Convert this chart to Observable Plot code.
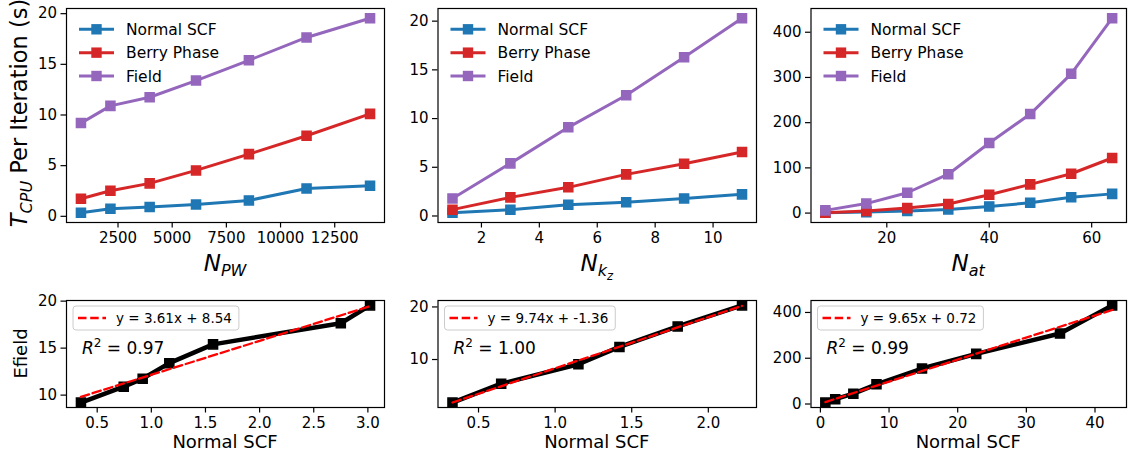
<!DOCTYPE html>
<html><head><meta charset="utf-8">
<script src="https://cdn.jsdelivr.net/npm/d3@7"></script>
<script src="https://cdn.jsdelivr.net/npm/@observablehq/plot@0.6"></script>
<style>
html,body{margin:0;padding:0;background:#fff;}
#fig{position:relative;width:1133px;height:452px;overflow:hidden;font-family:"DejaVu Sans";background:#fff;}
#fig svg{position:absolute;left:0;top:0;}
</style></head><body><div id="fig"></div>
<script>
// ---------- data ----------
const seriesNames = ["Normal SCF", "Berry Phase", "Field"];
const seriesColors = ["#1f77b4", "#d62728", "#9467bd"];

const npw = [790, 2150, 3960, 6100, 8540, 11200, 14130];
const npwNormal = [0.35, 0.745, 0.92, 1.166, 1.57, 2.75, 3.02];
const npwBerry = [1.74, 2.53, 3.25, 4.53, 6.14, 7.95, 10.11];
const npwField = [9.2, 10.9, 11.75, 13.4, 15.4, 17.65, 19.55];

const nkz = [1, 3, 5, 7, 9, 11];
const nkzNormal = [0.33, 0.648, 1.152, 1.42, 1.80, 2.22];
const nkzBerry = [0.65, 1.91, 2.94, 4.27, 5.37, 6.56];
const nkzField = [1.8, 5.4, 9.1, 12.4, 16.3, 20.3];

const nat = [8, 16, 24, 32, 40, 48, 56, 64];
const natNormal = [0.72, 2.16, 4.8, 8.17, 14.8, 22.7, 34.9, 42.5];
const natBerry = [0.7, 4.4, 11, 20, 40.6, 63.5, 87, 121.8];
const natField = [6, 21, 45, 86, 155, 219, 308, 431];

const fitLabels = ["y = 3.61x + 8.54", "y = 9.74x + -1.36", "y = 9.65x + 0.72"];
const r2Labels = ["0.97", "1.00", "0.99"];

const topXTicks = [[2500, 5000, 7500, 10000, 12500], [2, 4, 6, 8, 10], [20, 40, 60]];
const topYTicks = [[0, 5, 10, 15, 20], [0, 5, 10, 15, 20], [0, 100, 200, 300, 400]];
const botXTicks = [[0.5, 1.0, 1.5, 2.0, 2.5, 3.0], [0.5, 1.0, 1.5, 2.0], [0, 10, 20, 30, 40]];
const botYTicks = [[10, 15, 20], [10, 20], [0, 200, 400]];

// ---------- layout ----------
const W = 1133, H = 452;
const cols = [{x0: 66, x1: 384}, {x0: 437.5, x1: 756}, {x0: 810.5, x1: 1126}];
const topRow = {y0: 8, y1: 222}, botRow = {y0: 300, y1: 407};
const FONT = "DejaVu Sans";
const fig = document.getElementById("fig");

function pad(arr, f = 0.05) {
  const [a, b] = d3.extent(arr);
  const m = (b - a) * f;
  return [a - m, b + m];
}

function panel(col, row, xDomain, yDomain, xTicks, yTicks, xFmt, yFmt, marks) {
  const svg = Plot.plot({
    width: W, height: H,
    marginLeft: col.x0, marginRight: W - col.x1,
    marginTop: row.y0, marginBottom: H - row.y1,
    style: {fontFamily: FONT, fontSize: "15px", color: "black", background: "none", overflow: "visible"},
    x: {domain: xDomain, label: null},
    y: {domain: yDomain, label: null},
    marks: [
      ...marks,
      Plot.axisX({ticks: xTicks, tickFormat: xFmt, tickSize: 5.5, tickPadding: 4, label: null, strokeWidth: 1.2}),
      Plot.axisY({ticks: yTicks, tickFormat: yFmt, tickSize: 5.5, tickPadding: 4, label: null, strokeWidth: 1.2}),
      Plot.frame({stroke: "black", strokeWidth: 1.2})
    ]
  });
  fig.appendChild(svg);
  return svg;
}

function seriesMarks(xs, ys, color) {
  const data = xs.map((x, i) => ({x, y: ys[i]}));
  return [
    Plot.line(data, {x: "x", y: "y", stroke: color, strokeWidth: 3}),
    Plot.dot(data, {x: "x", y: "y", symbol: "square", r: 5.1, fill: color, stroke: color, strokeWidth: 1.5})
  ];
}

function fitMarks(xs, ys) {
  const data = xs.map((x, i) => ({x, y: ys[i]}));
  return [
    Plot.line(data, {x: "x", y: "y", stroke: "black", strokeWidth: 4.5}),
    Plot.dot(data, {x: "x", y: "y", symbol: "square", r: 5.1, fill: "black", stroke: "black", strokeWidth: 1.5}),
    Plot.linearRegressionY(data, {x: "x", y: "y", stroke: "red", strokeWidth: 2.3, strokeDasharray: "8.5,3.7", ci: 0})
  ];
}

function topLegend(svg, col) {
  const g = d3.select(svg).append("g").attr("text-anchor", "start");
  seriesNames.forEach((name, i) => {
    const y = topRow.y0 + 21.3 + i * 23.35;
    g.append("line").attr("x1", col.x0 + 13).attr("x2", col.x0 + 48).attr("y1", y).attr("y2", y)
      .attr("stroke", seriesColors[i]).attr("stroke-width", 3);
    g.append("rect").attr("x", col.x0 + 30.5 - 5.2).attr("y", y - 5.2).attr("width", 10.4).attr("height", 10.4)
      .attr("fill", seriesColors[i]);
    g.append("text").attr("x", col.x0 + 60).attr("y", y).attr("dy", "0.36em").attr("text-anchor", "start")
      .attr("font-family", FONT).attr("font-size", 15.5).attr("fill", "black").text(name);
  });
}

function botLegend(svg, col, label, r2) {
  const g = d3.select(svg).append("g").attr("text-anchor", "start");
  const y = botRow.y0 + 18;
  const box = g.append("rect").attr("x", col.x0 + 7).attr("y", botRow.y0 + 6).attr("height", 24).attr("rx", 3)
    .attr("fill", "white").attr("fill-opacity", 0.8).attr("stroke", "#cccccc").attr("stroke-width", 1);
  g.append("line").attr("x1", col.x0 + 12).attr("x2", col.x0 + 40).attr("y1", y).attr("y2", y)
    .attr("stroke", "red").attr("stroke-width", 2.3).attr("stroke-dasharray", "8.5,3.7");
  const t = g.append("text").attr("x", col.x0 + 50).attr("y", y).attr("dy", "0.36em").attr("text-anchor", "start")
    .attr("font-family", FONT).attr("font-size", 13.5).attr("fill", "black").text(label);
  const len = t.node().getComputedTextLength();
  box.attr("width", 43 + len + 7);
  const r = g.append("text").attr("x", col.x0 + 16).attr("y", botRow.y0 + 54).attr("text-anchor", "start")
    .attr("font-family", FONT).attr("font-size", 17).attr("fill", "black");
  r.append("tspan").attr("font-style", "italic").text("R");
  r.append("tspan").attr("font-size", 12).attr("dy", -7).text("2");
  r.append("tspan").attr("dy", 7).text(" = " + r2);
}

function xLabelTop(svg, col, main, sub, subsub) {
  const t = d3.select(svg).append("text").attr("x", (col.x0 + col.x1) / 2).attr("y", 271)
    .attr("text-anchor", "middle").attr("font-family", FONT).attr("fill", "black");
  t.append("tspan").attr("font-style", "italic").attr("font-size", 23).text(main);
  t.append("tspan").attr("font-style", "italic").attr("font-size", 16).attr("dy", 5).text(sub);
  if (subsub) t.append("tspan").attr("font-style", "italic").attr("font-size", 11.5).attr("dy", 4).text(subsub);
}

function xLabelBot(svg, col, label) {
  d3.select(svg).append("text").attr("x", (col.x0 + col.x1) / 2).attr("y", 448)
    .attr("text-anchor", "middle").attr("font-family", FONT).attr("font-size", 18).attr("fill", "black").text(label);
}

const intFmt = d3.format("d");
const f1 = d3.format(".1f");

// ---------- top row ----------
const topX = [npw, nkz, nat];
const topSeries = [[npwNormal, npwBerry, npwField], [nkzNormal, nkzBerry, nkzField], [natNormal, natBerry, natField]];
const topSvgs = topX.map((xs, p) => {
  const ys = topSeries[p];
  const all = ys.flat();
  const marks = ys.flatMap((s, i) => seriesMarks(xs, s, seriesColors[i]));
  const svg = panel(cols[p], topRow, pad(xs), pad(all), topXTicks[p], topYTicks[p], intFmt, intFmt, marks);
  topLegend(svg, cols[p]);
  return svg;
});
xLabelTop(topSvgs[0], cols[0], "N", "PW");
xLabelTop(topSvgs[1], cols[1], "N", "k", "z");
xLabelTop(topSvgs[2], cols[2], "N", "at");

// y label top
{
  const t = d3.select(topSvgs[0]).append("text").attr("transform", "translate(27,113) rotate(-90)")
    .attr("text-anchor", "middle").attr("font-family", FONT).attr("fill", "black");
  t.append("tspan").attr("font-style", "italic").attr("font-size", 22.5).text("T");
  t.append("tspan").attr("font-style", "italic").attr("font-size", 16).attr("dy", 5).text("CPU");
  t.append("tspan").attr("font-size", 22.5).attr("dy", -5).text(" Per Iteration (s)");
}

// ---------- bottom row ----------
const botX = [npwNormal, nkzNormal, natNormal];
const botY = [npwField, nkzField, natField];
const botFmtX = [f1, f1, intFmt];
botX.forEach((xs, p) => {
  const ys = botY[p];
  const svg = panel(cols[p], botRow, pad(xs), pad(ys), botXTicks[p], botYTicks[p], botFmtX[p], intFmt, fitMarks(xs, ys));
  botLegend(svg, cols[p], fitLabels[p], r2Labels[p]);
  xLabelBot(svg, cols[p], "Normal SCF");
  if (p === 0) {
    d3.select(svg).append("text").attr("transform", "translate(27,353.5) rotate(-90)")
      .attr("text-anchor", "middle").attr("font-family", FONT).attr("font-size", 18).attr("fill", "black").text("Efield");
  }
});
</script></body></html>
